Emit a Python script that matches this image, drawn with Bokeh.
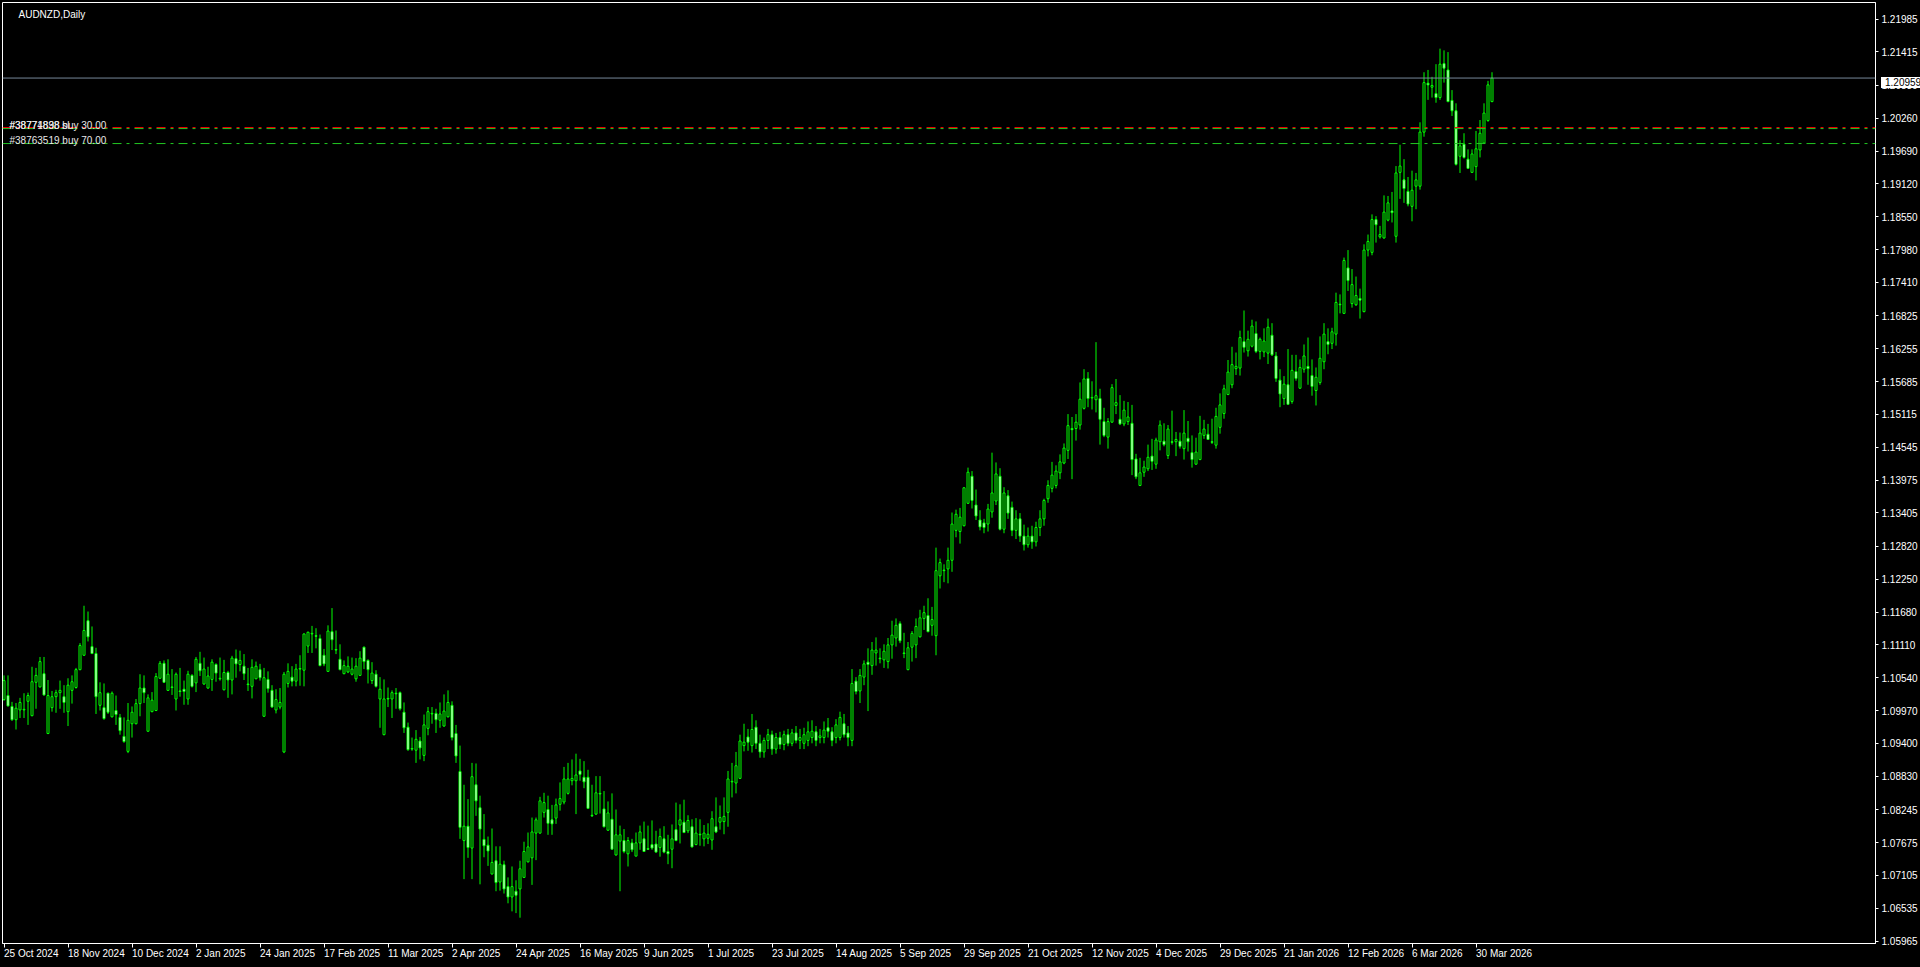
from bokeh.plotting import figure
from bokeh.models import (Range1d, LinearAxis, FixedTicker, PrintfTickFormatter, Span, Label,
                          ColumnDataSource, GlobalInlineStyleSheet, Div)
from bokeh.layouts import column
from bokeh.embed import file_html
from bokeh.resources import INLINE

symbol = "AUDNZD,Daily"

opens = [
 1.1016,1.1023,1.1004,1.0981,1.0998,1.0998,1.1013,1.0988,1.1046,1.1038,
 1.1061,1.0957,1.1002,1.1021,1.1028,1.1021,1.0995,1.1032,1.1037,1.1068,
 1.1093,1.1153,1.1108,1.1096,1.1006,1.1002,1.1027,1.0986,1.0997,1.0985,
 1.0952,1.0926,1.0974,1.0974,1.1009,1.1036,1.0961,1.0995,1.0997,1.1053,
 1.1079,1.1032,1.1038,1.1017,1.1031,1.1034,1.1017,1.1058,1.1045,1.1079,
 1.1043,1.1036,1.1051,1.1077,1.1052,1.1033,1.1063,1.1050,1.1087,1.1077,
 1.1074,1.1043,1.1039,1.1052,1.1068,1.0987,1.1051,1.1032,1.0998,1.1003,
 1.0925,1.1044,1.1055,1.1048,1.1069,1.1067,1.1109,1.1130,1.1127,1.1122,
 1.1093,1.1065,1.1134,1.1103,1.1086,1.1061,1.1064,1.1060,1.1052,1.1058,
 1.1107,1.1084,1.1049,1.1060,1.1017,1.0955,1.1018,1.1017,1.1027,1.1028,
 1.0994,1.0968,1.0931,1.0928,1.0944,1.0919,1.0966,1.0991,1.0992,1.0980,
 1.0970,1.0986,1.1006,1.0957,1.0891,1.0771,1.0796,1.0758,1.0868,1.0828,
 1.0773,1.0763,1.0713,1.0736,1.0699,1.0729,1.0691,1.0673,1.0683,1.0687,
 1.0707,1.0734,1.0741,1.0784,1.0784,1.0820,1.0825,1.0807,1.0810,1.0834,
 1.0838,1.0853,1.0875,1.0875,1.0892,1.0881,1.0881,1.0815,1.0817,1.0853,
 1.0826,1.0789,1.0808,1.0746,1.0770,1.0771,1.0748,1.0767,1.0744,1.0767,
 1.0774,1.0757,1.0764,1.0765,1.0759,1.0774,1.0752,1.0756,1.0790,1.0798,
 1.0803,1.0788,1.0795,1.0764,1.0782,1.0774,1.0775,1.0772,1.0795,1.0803,
 1.0804,1.0820,1.0873,1.0871,1.0879,1.0936,1.0951,1.0936,1.0968,1.0940,
 1.0925,1.0945,1.0955,1.0930,1.0950,1.0938,1.0955,1.0940,1.0958,1.0945,
 1.0940,1.0945,1.0950,1.0960,1.0950,1.0950,1.0967,1.0960,1.0950,1.0950,
 1.0974,1.0958,1.0945,1.1048,1.1031,1.1055,1.1081,1.1075,1.1097,1.1088,
 1.1085,1.1082,1.1111,1.1123,1.1148,1.1097,1.1068,1.1107,1.1111,1.1125,
 1.1157,1.1162,1.1145,1.1127,1.1231,1.1241,1.1243,1.1258,1.1310,1.1308,
 1.1318,1.1357,1.1404,1.1354,1.1328,1.1323,1.1321,1.1342,1.1361,1.1404,
 1.1312,1.1370,1.1350,1.1310,1.1330,1.1300,1.1285,1.1300,1.1290,1.1315,
 1.1330,1.1365,1.1383,1.1388,1.1410,1.1427,1.1449,1.1487,1.1487,1.1493,
 1.1522,1.1574,1.1540,1.1537,1.1539,1.1499,1.1472,1.1498,1.1527,1.1503,
 1.1495,1.1499,1.1496,1.1434,1.1388,1.1411,1.1417,1.1439,1.1425,1.1464,
 1.1465,1.1440,1.1464,1.1464,1.1465,1.1452,1.1470,1.1445,1.1425,1.1433,
 1.1475,1.1477,1.1464,1.1458,1.1489,1.1513,1.1546,1.1563,1.1591,1.1592,
 1.1638,1.1622,1.1630,1.1652,1.1621,1.1620,1.1618,1.1649,1.1613,1.1571,
 1.1539,1.1563,1.1534,1.1586,1.1557,1.1590,1.1595,1.1579,1.1553,1.1567,
 1.1603,1.1638,1.1635,1.1651,1.1703,1.1687,1.1766,1.1704,1.1702,1.1713,
 1.1690,1.1797,1.1793,1.1850,1.1820,1.1818,1.1849,1.1865,1.1821,1.1932,
 1.1919,1.1899,1.1873,1.1908,1.1908,1.2002,1.2087,1.2080,1.2069,1.2062,
 1.2121,1.2110,1.2057,1.2039,1.1960,1.1981,1.1955,1.1932,1.1942,1.1971,
 1.1983,1.2022,1.2055]

highs = [
 1.1058,1.1058,1.1012,1.1010,1.1019,1.1027,1.1028,1.1073,1.1071,1.1090,
 1.1090,1.1050,1.1031,1.1033,1.1049,1.1041,1.1053,1.1058,1.1071,1.1114,
 1.1179,1.1169,1.1143,1.1106,1.1046,1.1044,1.1028,1.1030,1.1023,1.0991,
 1.0985,1.1010,1.1004,1.1017,1.1060,1.1058,1.1025,1.1029,1.1062,1.1083,
 1.1084,1.1086,1.1069,1.1063,1.1071,1.1049,1.1066,1.1060,1.1090,1.1099,
 1.1089,1.1073,1.1086,1.1079,1.1089,1.1085,1.1066,1.1092,1.1103,1.1101,
 1.1095,1.1071,1.1086,1.1082,1.1078,1.1071,1.1065,1.1041,1.1034,1.1036,
 1.1064,1.1079,1.1074,1.1078,1.1093,1.1131,1.1134,1.1144,1.1140,1.1129,
 1.1104,1.1145,1.1175,1.1136,1.1112,1.1084,1.1091,1.1089,1.1088,1.1100,
 1.1108,1.1086,1.1081,1.1067,1.1055,1.1051,1.1037,1.1032,1.1036,1.1030,
 1.1011,1.0976,1.0950,1.0963,1.0951,1.0990,1.1003,1.1003,1.1000,1.1011,
 1.1025,1.1032,1.1013,1.0972,1.0936,1.0868,1.0843,1.0906,1.0905,1.0849,
 1.0817,1.0778,1.0792,1.0761,1.0761,1.0736,1.0707,1.0726,1.0702,1.0736,
 1.0769,1.0785,1.0811,1.0811,1.0847,1.0854,1.0849,1.0833,1.0844,1.0872,
 1.0899,1.0906,1.0912,1.0922,1.0913,1.0909,1.0894,1.0868,1.0883,1.0883,
 1.0857,1.0839,1.0853,1.0825,1.0797,1.0791,1.0777,1.0774,1.0785,1.0797,
 1.0804,1.0797,1.0806,1.0788,1.0792,1.0796,1.0781,1.0799,1.0837,1.0834,
 1.0842,1.0815,1.0808,1.0810,1.0808,1.0798,1.0801,1.0822,1.0846,1.0832,
 1.0846,1.0892,1.0906,1.0925,1.0955,1.0974,1.0965,1.0991,1.0980,1.0955,
 1.0950,1.0965,1.0962,1.0958,1.0960,1.0962,1.0965,1.0965,1.0970,1.0965,
 1.0967,1.0978,1.0980,1.0970,1.0965,1.0978,1.0984,1.0968,1.0982,1.0995,
 1.0991,1.0970,1.1069,1.1055,1.1069,1.1084,1.1105,1.1116,1.1124,1.1105,
 1.1112,1.1123,1.1153,1.1157,1.1152,1.1132,1.1116,1.1135,1.1157,1.1172,
 1.1179,1.1192,1.1177,1.1280,1.1261,1.1251,1.1280,1.1341,1.1346,1.1349,
 1.1385,1.1419,1.1413,1.1381,1.1345,1.1330,1.1356,1.1445,1.1428,1.1418,
 1.1385,1.1380,1.1360,1.1345,1.1340,1.1320,1.1315,1.1318,1.1325,1.1345,
 1.1365,1.1397,1.1429,1.1423,1.1442,1.1461,1.1512,1.1507,1.1512,1.1567,
 1.1590,1.1585,1.1569,1.1637,1.1556,1.1523,1.1505,1.1564,1.1573,1.1545,
 1.1535,1.1533,1.1528,1.1443,1.1436,1.1431,1.1459,1.1469,1.1471,1.1501,
 1.1496,1.1493,1.1518,1.1481,1.1480,1.1519,1.1500,1.1475,1.1471,1.1509,
 1.1502,1.1495,1.1504,1.1523,1.1548,1.1563,1.1606,1.1629,1.1619,1.1657,
 1.1692,1.1657,1.1676,1.1673,1.1645,1.1661,1.1678,1.1670,1.1620,1.1590,
 1.1578,1.1625,1.1615,1.1615,1.1607,1.1633,1.1645,1.1607,1.1593,1.1647,
 1.1670,1.1661,1.1662,1.1723,1.1720,1.1784,1.1797,1.1764,1.1751,1.1730,
 1.1807,1.1824,1.1859,1.1856,1.1839,1.1892,1.1891,1.1898,1.1943,1.1980,
 1.1955,1.1924,1.1935,1.1931,1.2019,1.2106,1.2110,1.2098,1.2120,1.2147,
 1.2144,1.2141,1.2075,1.2052,1.1988,1.2000,1.1972,1.1972,1.2004,1.2023,
 1.2052,1.2091,1.2106]

lows = [
 1.1014,1.1004,1.0979,1.0964,1.0984,1.0984,1.0972,1.0987,1.1000,1.1037,
 1.1023,1.0956,1.0995,1.0993,1.1000,1.0993,1.0970,1.1009,1.1035,1.1067,
 1.1092,1.1117,1.1095,1.0991,1.0997,1.0981,1.0991,1.0985,1.0972,1.0955,
 1.0941,1.0923,1.0950,1.0973,1.0987,1.1010,1.0960,1.0994,1.0996,1.1052,
 1.1045,1.1031,1.1024,1.0997,1.1021,1.1007,1.1007,1.1037,1.1029,1.1057,
 1.1042,1.1035,1.1031,1.1047,1.1049,1.1032,1.1019,1.1025,1.1054,1.1065,
 1.1050,1.1031,1.1018,1.1052,1.1049,1.0986,1.1028,1.1002,1.0992,1.0999,
 1.0923,1.1037,1.1039,1.1039,1.1040,1.1039,1.1097,1.1097,1.1105,1.1074,
 1.1074,1.1064,1.1102,1.1095,1.1067,1.1060,1.1062,1.1058,1.1047,1.1057,
 1.1069,1.1044,1.1043,1.1037,1.0967,1.0954,1.1003,1.0984,1.1000,1.0997,
 1.0958,1.0927,1.0927,1.0906,1.0912,1.0909,1.0954,1.0974,1.0958,1.0967,
 1.0969,1.0985,1.0945,1.0906,1.0774,1.0704,1.0741,1.0704,1.0814,1.0695,
 1.0742,1.0727,1.0712,1.0683,1.0684,1.0679,1.0662,1.0648,1.0645,1.0637,
 1.0707,1.0733,1.0694,1.0737,1.0783,1.0811,1.0781,1.0781,1.0800,1.0823,
 1.0834,1.0851,1.0867,1.0817,1.0875,1.0862,1.0827,1.0812,1.0816,1.0818,
 1.0794,1.0788,1.0756,1.0745,1.0683,1.0749,1.0726,1.0751,1.0744,1.0755,
 1.0752,1.0755,1.0755,1.0750,1.0743,1.0749,1.0730,1.0723,1.0770,1.0766,
 1.0784,1.0784,1.0759,1.0763,1.0762,1.0761,1.0765,1.0755,1.0784,1.0790,
 1.0782,1.0795,1.0846,1.0853,1.0878,1.0926,1.0927,1.0924,1.0930,1.0915,
 1.0915,1.0930,1.0920,1.0922,1.0930,1.0928,1.0935,1.0935,1.0940,1.0930,
 1.0930,1.0935,1.0940,1.0935,1.0940,1.0940,1.0950,1.0935,1.0940,1.0945,
 1.0950,1.0935,1.0935,1.1025,1.1010,1.1041,1.0996,1.1059,1.1075,1.1079,
 1.1071,1.1070,1.1087,1.1108,1.1114,1.1088,1.1067,1.1082,1.1088,1.1124,
 1.1137,1.1133,1.1127,1.1093,1.1209,1.1220,1.1218,1.1238,1.1298,1.1287,
 1.1317,1.1356,1.1348,1.1328,1.1310,1.1305,1.1308,1.1332,1.1354,1.1310,
 1.1305,1.1330,1.1300,1.1295,1.1290,1.1275,1.1280,1.1278,1.1282,1.1300,
 1.1318,1.1358,1.1376,1.1383,1.1399,1.1425,1.1434,1.1399,1.1466,1.1485,
 1.1520,1.1524,1.1520,1.1515,1.1459,1.1472,1.1452,1.1497,1.1512,1.1493,
 1.1491,1.1493,1.1406,1.1399,1.1387,1.1403,1.1413,1.1415,1.1417,1.1449,
 1.1456,1.1434,1.1459,1.1439,1.1452,1.1433,1.1447,1.1419,1.1424,1.1432,
 1.1469,1.1467,1.1460,1.1452,1.1478,1.1504,1.1545,1.1557,1.1580,1.1579,
 1.1619,1.1612,1.1628,1.1618,1.1607,1.1611,1.1599,1.1613,1.1568,1.1524,
 1.1528,1.1528,1.1530,1.1570,1.1556,1.1584,1.1563,1.1544,1.1527,1.1563,
 1.1590,1.1616,1.1625,1.1631,1.1687,1.1686,1.1726,1.1697,1.1700,1.1678,
 1.1689,1.1786,1.1788,1.1810,1.1817,1.1817,1.1847,1.1845,1.1810,1.1886,
 1.1879,1.1873,1.1847,1.1868,1.1902,1.1994,1.2058,1.2062,1.2053,1.2058,
 1.2088,1.2054,1.2030,1.1944,1.1931,1.1956,1.1938,1.1931,1.1918,1.1958,
 1.1982,1.2020,1.2054]

closes = [
 1.1049,1.1005,1.0981,1.1001,1.1011,1.0999,1.1023,1.1047,1.1058,1.1082,
 1.1024,1.1023,1.1021,1.1028,1.1032,1.1011,1.1041,1.1047,1.1068,1.1110,
 1.1136,1.1125,1.1096,1.1021,1.1028,1.0983,1.0994,1.1027,1.0990,1.0962,
 1.0943,1.0980,1.0994,1.1009,1.1036,1.1028,1.1019,1.1015,1.1056,1.1079,
 1.1046,1.1060,1.1037,1.1060,1.1030,1.1030,1.1060,1.1039,1.1086,1.1066,
 1.1069,1.1057,1.1081,1.1062,1.1053,1.1063,1.1050,1.1088,1.1078,1.1084,
 1.1061,1.1042,1.1072,1.1074,1.1054,1.1054,1.1035,1.1003,1.1016,1.1011,
 1.1060,1.1065,1.1048,1.1069,1.1070,1.1130,1.1133,1.1131,1.1126,1.1075,
 1.1078,1.1135,1.1120,1.1102,1.1068,1.1075,1.1074,1.1069,1.1074,1.1088,
 1.1082,1.1068,1.1062,1.1039,1.1034,1.1017,1.1017,1.1028,1.1026,1.1000,
 1.0967,1.0929,1.0930,1.0947,1.0932,1.0972,1.0995,1.0992,1.0981,1.0991,
 1.0996,1.1011,1.0950,1.0918,1.0794,1.0796,1.0759,1.0882,1.0840,1.0791,
 1.0762,1.0753,1.0733,1.0698,1.0730,1.0687,1.0673,1.0691,1.0676,1.0722,
 1.0752,1.0760,1.0786,1.0807,1.0840,1.0837,1.0801,1.0800,1.0833,1.0844,
 1.0878,1.0878,1.0879,1.0885,1.0886,1.0873,1.0827,1.0814,1.0854,1.0852,
 1.0795,1.0819,1.0756,1.0781,1.0781,1.0752,1.0771,1.0755,1.0767,1.0786,
 1.0752,1.0756,1.0758,1.0751,1.0778,1.0751,1.0748,1.0774,1.0771,1.0807,
 1.0785,1.0806,1.0760,1.0784,1.0781,1.0784,1.0782,1.0809,1.0786,1.0811,
 1.0813,1.0878,1.0874,1.0901,1.0944,1.0942,1.0942,1.0964,1.0940,1.0925,
 1.0945,1.0955,1.0930,1.0950,1.0938,1.0955,1.0940,1.0958,1.0945,1.0950,
 1.0955,1.0960,1.0961,1.0945,1.0953,1.0963,1.0961,1.0945,1.0972,1.0985,
 1.0955,1.0950,1.1044,1.1030,1.1058,1.1078,1.1077,1.1102,1.1102,1.1087,
 1.1100,1.1111,1.1128,1.1145,1.1118,1.1096,1.1106,1.1131,1.1143,1.1158,
 1.1167,1.1134,1.1155,1.1240,1.1254,1.1240,1.1258,1.1321,1.1338,1.1333,
 1.1384,1.1411,1.1362,1.1335,1.1316,1.1315,1.1347,1.1375,1.1408,1.1312,
 1.1375,1.1340,1.1310,1.1330,1.1300,1.1285,1.1300,1.1290,1.1315,1.1330,
 1.1362,1.1388,1.1406,1.1413,1.1429,1.1453,1.1492,1.1485,1.1498,1.1538,
 1.1573,1.1539,1.1541,1.1544,1.1503,1.1475,1.1499,1.1558,1.1532,1.1495,
 1.1519,1.1507,1.1433,1.1403,1.1410,1.1420,1.1437,1.1430,1.1467,1.1493,
 1.1459,1.1486,1.1463,1.1468,1.1456,1.1479,1.1464,1.1433,1.1446,1.1479,
 1.1486,1.1468,1.1463,1.1508,1.1528,1.1556,1.1585,1.1598,1.1595,1.1645,
 1.1628,1.1642,1.1665,1.1621,1.1642,1.1639,1.1663,1.1615,1.1574,1.1547,
 1.1564,1.1529,1.1588,1.1574,1.1593,1.1613,1.1591,1.1560,1.1576,1.1609,
 1.1651,1.1633,1.1655,1.1706,1.1702,1.1779,1.1744,1.1737,1.1718,1.1710,
 1.1797,1.1812,1.1850,1.1841,1.1824,1.1863,1.1879,1.1862,1.1931,1.1943,
 1.1904,1.1877,1.1901,1.1919,1.2002,1.2088,1.2084,1.2083,1.2062,1.2120,
 1.2113,1.2055,1.2039,1.1946,1.1978,1.1958,1.1939,1.1964,1.1973,1.2000,
 1.2035,1.2084,1.20959]

date_labels = ["25 Oct 2024", "18 Nov 2024", "10 Dec 2024", "2 Jan 2025", "24 Jan 2025",
               "17 Feb 2025", "11 Mar 2025", "2 Apr 2025", "24 Apr 2025", "16 May 2025",
               "9 Jun 2025", "1 Jul 2025", "23 Jul 2025", "14 Aug 2025", "5 Sep 2025",
               "29 Sep 2025", "21 Oct 2025", "12 Nov 2025", "4 Dec 2025", "29 Dec 2025",
               "21 Jan 2026", "12 Feb 2026", "6 Mar 2026", "30 Mar 2026"]
bars_per_label = 16

price_ticks = [1.05965, 1.06535, 1.07105, 1.07675, 1.08245, 1.08830, 1.09400, 1.09970,
               1.10540, 1.11110, 1.11680, 1.12250, 1.12820, 1.13405, 1.13975, 1.14545,
               1.15115, 1.15685, 1.16255, 1.16825, 1.17410, 1.17980, 1.18550, 1.19120,
               1.19690, 1.20260, 1.20830, 1.21415, 1.21985]

bid_price = 1.20959
sl_price = 1.20098
buy30_price = 1.20081
buy70_price = 1.19821
sl_text = "#38774898 sl"
buy30_text = "#38771838 buy 30.00"
buy70_text = "#38763519 buy 70.00"

n = len(closes)
assert len(opens) == n and len(highs) == n and len(lows) == n, (len(opens), len(highs), len(lows), n)

# ---------------- layout (pixels) ----------------
W, H = 1920, 967
FL, FT, FR, FB = 2, 2, 1875, 946
BAR = 4.0
PX = 0.0001732
x_start = -0.375
x_end = x_start + (FR - FL) / BAR
y_top = price_ticks[0] + (943.5 - FT) * PX
y_bot = price_ticks[0] + (943.5 - FB) * PX

def xdata(px):
    return x_start + (px - FL) / BAR

def ydata(py):
    return y_top - (py - FT) * PX

FONT = "Liberation Sans"
FS = "10px"
LIME = "#00FF00"

p = figure(width=W, height=H, x_range=Range1d(x_start, x_end), y_range=Range1d(y_bot, y_top),
           output_backend="svg", toolbar_location=None,
           x_axis_location=None, y_axis_location=None,
           min_border_left=FL, min_border_right=W - FR, min_border_top=FT, min_border_bottom=H - FB,
           background_fill_color="black", border_fill_color="black",
           outline_line_color="white", outline_line_width=1)
p.grid.visible = False

# right price axis
ya = LinearAxis(ticker=FixedTicker(ticks=price_ticks), formatter=PrintfTickFormatter(format="%.5f"),
                axis_line_color="white", major_tick_line_color="white", major_tick_out=3,
                major_tick_in=0, minor_tick_line_color=None, major_label_text_color="white",
                major_label_text_font=FONT, major_label_text_font_size=FS,
                major_label_standoff=3)
p.add_layout(ya, "right")

# bottom time axis: labels start at their tick (a tiny negative angle gives left-aligned labels)
tick_idx = [bars_per_label * k for k in range(len(date_labels))]
xa = LinearAxis(ticker=FixedTicker(ticks=tick_idx),
                major_label_overrides={t: s for t, s in zip(tick_idx, date_labels)},
                major_label_orientation=-1e-4,
                axis_line_color="white", major_tick_line_color="white", major_tick_out=4,
                major_tick_in=0, minor_tick_line_color=None, major_label_text_color="white",
                major_label_text_font=FONT, major_label_text_font_size=FS,
                major_label_standoff=6)
p.add_layout(xa, "below")

# candles
idx = list(range(n))
src = ColumnDataSource(dict(
    x=idx, o=opens, h=highs, l=lows, c=closes,
    top=[max(o, c) for o, c in zip(opens, closes)],
    bottom=[min(o, c) for o, c in zip(opens, closes)],
    fill=["black" if c >= o else "white" for o, c in zip(opens, closes)],
))
p.segment(x0="x", y0="l", x1="x", y1="h", source=src, line_color=LIME, line_width=1)
p.vbar(x="x", width=0.5, top="top", bottom="bottom", source=src,
       fill_color="fill", line_color=LIME, line_width=1)

# order / stop lines
DASH = "9 5 3 5"
p.add_layout(Span(location=buy70_price, dimension="width", line_color="#22C722", line_width=1, line_dash=DASH))
p.add_layout(Span(location=sl_price, dimension="width", line_color="#FF0000", line_width=1, line_dash=DASH))
p.add_layout(Span(location=buy30_price, dimension="width", line_color="#22C722", line_width=1, line_dash=DASH))
# bid line
p.add_layout(Span(location=bid_price, dimension="width", line_color="#778899", line_width=1))

lab_kw = dict(text_font=FONT, text_font_size=FS, text_color="#E8E8E8",
              text_align="left", text_baseline="alphabetic")
p.add_layout(Label(x=xdata(9), y=buy70_price, y_offset=3, text=buy70_text, **lab_kw))
p.add_layout(Label(x=xdata(9), y=buy30_price, y_offset=3, text=buy30_text, **lab_kw))
p.add_layout(Label(x=xdata(9), y=sl_price, y_offset=2, text=sl_text, **lab_kw))

# chart title
p.add_layout(Label(x=xdata(18), y=ydata(14.5), text=symbol, text_font=FONT, text_font_size=FS,
                   text_color="white", text_align="left", text_baseline="alphabetic"))

# bid price box on the price scale: placed at the pixel row of the bid price
bid_row = FT + (y_top - bid_price) / PX
bid_div = Div(text="%.5f" % bid_price, styles={
    "position": "absolute", "left": "1876px", "top": "%dpx" % round(bid_row - 5.5),
    "background": "white", "color": "black", "font-family": "Liberation Sans",
    "font-size": "10px", "line-height": "11px", "padding": "0px 4px 0px 4px",
    "z-index": "10", "white-space": "nowrap"})

layout = column(p, bid_div, spacing=0)
layout.stylesheets = [GlobalInlineStyleSheet(css="html,body{margin:0;padding:0;background:#000;overflow:hidden;}")]

open("out.html", "w").write(file_html(layout, INLINE))
